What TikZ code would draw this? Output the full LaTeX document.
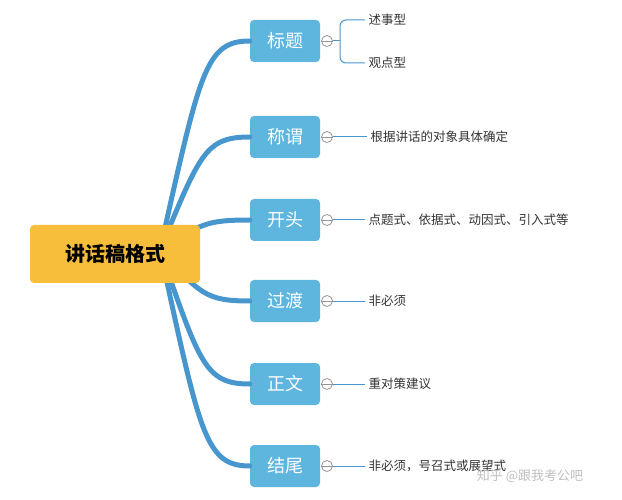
\documentclass[tikz,border=0pt]{standalone}
\usepackage{fontspec}
\newfontfamily\cjk{Noto Sans CJK SC}
\usetikzlibrary{positioning}
\definecolor{MAProot}{RGB}{246,190,58}
\definecolor{MAPbox}{RGB}{94,182,222}
\definecolor{MAPline}{RGB}{72,150,206}
\definecolor{MAPring}{RGB}{150,150,150}
\begin{document}
\begin{tikzpicture}[x=1pt,y=-1pt,
	rootnode/.style={fill=MAProot, rounded corners=4pt, minimum width=170pt, minimum height=58pt, font=\cjk\bfseries\fontsize{20}{24}\selectfont},
	topicnode/.style={fill=MAPbox, text=white, rounded corners=4pt, minimum width=70pt, minimum height=42pt, font=\cjk\fontsize{18}{21}\selectfont},
	ringnode/.style={circle, draw=MAPring, fill=white, line width=0.8pt, minimum size=11pt, inner sep=0},
	leafnode/.style={anchor=west, font=\cjk\fontsize{12.5}{15}\selectfont, text=black!80},
	branch/.style={MAPline, line width=5pt, line cap=round},
	twig/.style={MAPline, line width=1pt}
	]
	\useasboundingbox (0,0) rectangle (622,500);
	\coordinate (hub) at (160,250);

	\foreach \name/\txt/\y in {t1/标题/41, t2/称谓/137, t3/开头/220, t4/过渡/301, t5/正文/384, t6/结尾/466} {
		\pgfmathsetmacro{\ya}{\y+(250-\y)*0.15}
		\node (\name) at (285,\y) [topicnode] {\txt};
		\draw [branch] (hub) .. controls (200,\ya) and (205,\y) .. (\name.west);
		\node (r\name) at (327,\y) [ringnode] {};
		\draw [MAPring, line width=0.8pt] (r\name.west) -- (r\name.east);
	}
	\node (root) at (115,254) [rootnode] {讲话稿格式};

	% leaves
	\node (l1) at (365,20) [leafnode] {述事型};
	\node (l2) at (365,63) [leafnode] {观点型};
	\coordinate (brace) at (340,41);
	\draw [twig] (rt1.east) -- (brace);
	\draw [twig, rounded corners=6pt] (l1.west) -- (340,20) -- (brace) -- (340,63) -- (l2.west);

	\node (l3) at (367,137) [leafnode] {根据讲话的对象具体确定};
	\node (l4) at (365,220) [leafnode] {点题式、依据式、动因式、引入式等};
	\node (l5) at (365,301) [leafnode] {非必须};
	\node (l6) at (365,384) [leafnode] {重对策建议};
	\node (l7) at (365,466) [leafnode] {非必须，号召式或展望式};
	\foreach \r/\l in {rt2/l3, rt3/l4, rt4/l5, rt5/l6, rt6/l7}
		\draw [twig] (\r.east) -- (\l.west);

	\node (mark) at (530,476) [font=\cjk\fontsize{13}{15}\selectfont, text=black!25] {知乎 @跟我考公吧};
\end{tikzpicture}
\end{document}
